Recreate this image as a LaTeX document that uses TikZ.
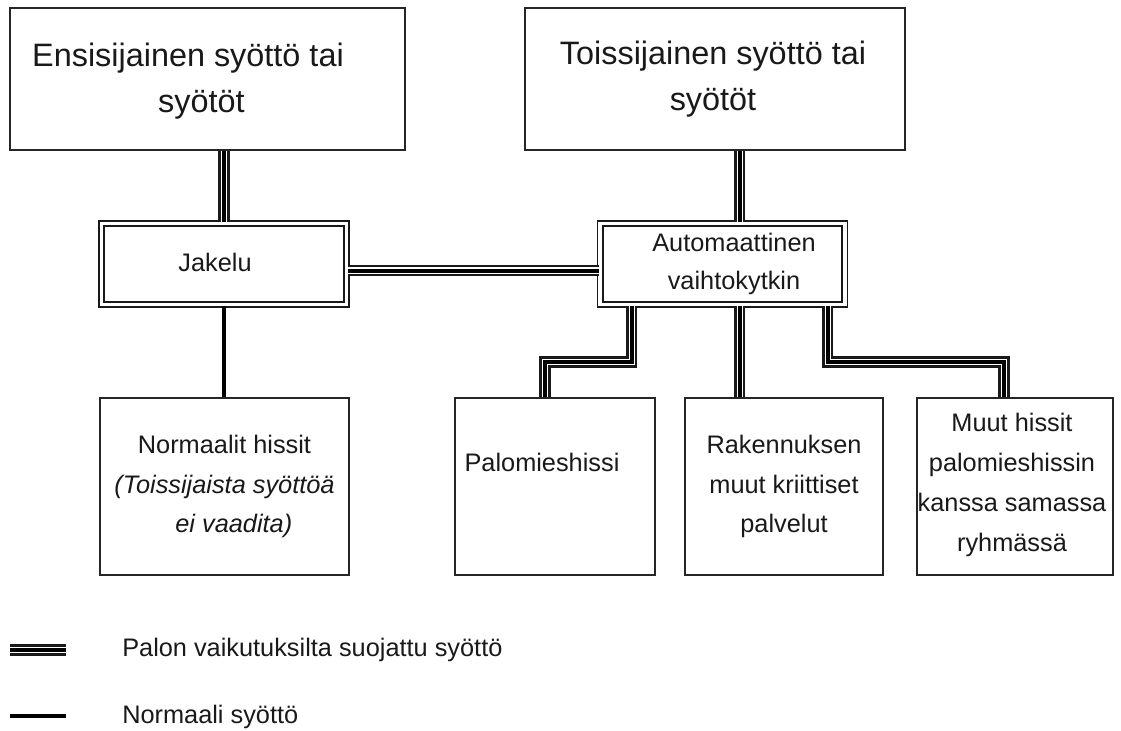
\documentclass[tikz,border=0pt]{standalone}
\usepackage{fontspec}
\setmainfont{Liberation Sans}
\usetikzlibrary{calc}
\begin{document}
\begin{tikzpicture}[x=0.75pt,y=-0.75pt,
  box/.style={draw=black!85,line width=1.2pt,inner sep=0pt,fill=white},
  dbox/.style={draw=black!90,line width=1.4pt,double=white,double distance=2.6pt,inner sep=0pt},
  lbl/.style={font=\fontsize{19}{29.5}\selectfont,align=center,inner sep=0pt,text=black!90},
  big/.style={font=\fontsize{24.3}{35}\selectfont,align=center,inner sep=0pt,text=black!90},
  prot/.style={line width=8.4pt,draw=black!90,
     postaction={draw=white,line width=5pt},
     postaction={draw=black,line width=3pt}},
  normline/.style={draw=black,line width=2.6pt}]
\useasboundingbox (0,0) rectangle (1121,731);

% top supply boxes
\node[box,minimum width=296.25pt,minimum height=106.5pt] (b1) at (207.5,79) {};
\node[big] (b1t) at (188,81) {Ensisijainen syöttö tai\\\hspace*{20pt}syötöt};
\node[box,minimum width=285pt,minimum height=106.5pt] (b2) at (715,79) {};
\node[big] (b2t) at (713,79) {Toissijainen syöttö tai\\syötöt};

% middle boxes
\node[dbox,minimum width=184pt,minimum height=61pt] (jak) at (224,264) {};
\node[lbl] (jakt) at (215,262) {Jakelu};
\node[dbox,minimum width=183.5pt,minimum height=61pt] (auto) at (722.5,264) {};
\node[lbl,font=\fontsize{19}{28.5}\selectfont] (autot) at (734,264) {Automaattinen\\vaihtokytkin};

% bottom boxes
\node[box,lbl,minimum width=186.75pt,minimum height=132.75pt] (norm) at (224.5,486.5)
  {Normaalit hissit\\\textit{(Toissijaista syöttöä}\\\hspace*{14pt}\textit{ei vaadita)}};
\node[box,minimum width=150pt,minimum height=132.75pt] (palo) at (555,486.5) {};
\node[lbl] (palot) at (542,462) {Palomieshissi};
\node[box,lbl,minimum width=148.5pt,minimum height=132.75pt] (rak) at (784,486.5)
  {Rakennuksen\\muut kriittiset\\palvelut};
\node[box,minimum width=147pt,minimum height=132.75pt] (muut) at (1015,486.5) {};
\node[lbl,font=\fontsize{19}{30}\selectfont] (muutt) at (1012,485)
  {Muut hissit\\palomieshissin\\kanssa samassa\\ryhmässä};

% connectors
\coordinate (yb) at (0,362);
\draw[prot] (jak.north) -- (jak.north |- b1.south);
\draw[prot] ([xshift=13pt]auto.north) -- ([xshift=13pt]auto.north |- b2.south);
\draw[prot] ([yshift=-5pt]jak.east) -- ([yshift=-5pt]auto.west);
\draw[normline] (jak.south) -- (jak.south |- norm.north);
\draw[prot] ([xshift=-68pt]auto.south) |- ([xshift=-7.5pt]palo.north |- yb) -- ([xshift=-7.5pt]palo.north);
\draw[prot] ([xshift=13pt]auto.south) -- ([xshift=13pt]auto.south |- rak.north);
\draw[prot] ([xshift=79pt]auto.south) |- ([xshift=-8.25pt]muut.north |- yb) -- ([xshift=-8.25pt]muut.north);

% legend
\coordinate (lg1a) at (10,650);
\coordinate (lg1b) at (66,650);
\draw[prot] (lg1a) -- (lg1b);
\node[lbl,anchor=west] (lg1) at (122,650) {Palon vaikutuksilta suojattu syöttö};
\coordinate (lg2a) at (10,716);
\coordinate (lg2b) at (66,716);
\draw[line width=3.2pt] (lg2a) -- (lg2b);
\node[lbl,anchor=west] (lg2) at (122,717) {Normaali syöttö};
\end{tikzpicture}
\end{document}
